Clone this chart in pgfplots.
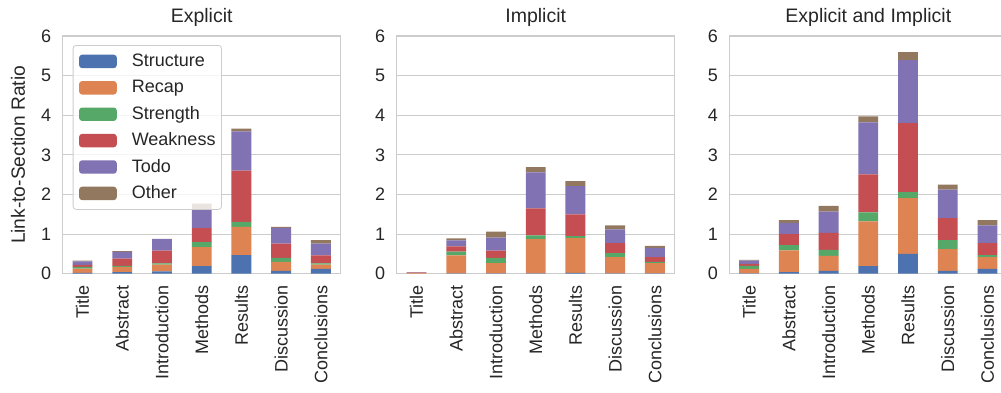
\documentclass[border=0pt]{standalone}
\usepackage{fontspec}
\setmainfont{Liberation Sans}
\usepackage{pgfplots}
\usepackage{pgfplotstable}
\pgfplotsset{compat=1.18}
\definecolor{cS}{HTML}{4C72B0}
\definecolor{cR}{HTML}{DD8452}
\definecolor{cG}{HTML}{55A868}
\definecolor{cW}{HTML}{C44E52}
\definecolor{cT}{HTML}{8172B3}
\definecolor{cO}{HTML}{937860}
\definecolor{gridc}{HTML}{CCCCCC}
\definecolor{txt}{HTML}{262626}

\pgfplotstableread{
x st re sg we to ot
0 0.02 0.11 0.04 0.05 0.09 0.02
1 0.04 0.13 0.03 0.18 0.17 0.02
2 0.06 0.17 0.03 0.32 0.29 0.01
3 0.19 0.48 0.13 0.35 0.47 0.15
4 0.47 0.71 0.13 1.29 0.99 0.07
5 0.07 0.23 0.10 0.36 0.40 0.02
6 0.12 0.11 0.03 0.20 0.30 0.09
}\explicitdata

\pgfplotstableread{
x st re sg we to ot
0 0.00 0.02 0.00 0.005 0.015 0.00
1 0.01 0.45 0.10 0.13 0.15 0.05
2 0.01 0.26 0.13 0.18 0.33 0.15
3 0.01 0.86 0.10 0.68 0.91 0.13
4 0.02 0.88 0.05 0.55 0.71 0.13
5 0.01 0.41 0.10 0.25 0.35 0.10
6 0.01 0.26 0.03 0.12 0.23 0.05
}\implicitdata

\pgfplotstableread{
x st re sg we to ot
0 0.01 0.11 0.08 0.05 0.08 0.02
1 0.04 0.55 0.13 0.28 0.28 0.07
2 0.07 0.38 0.15 0.43 0.54 0.14
3 0.19 1.13 0.23 0.96 1.31 0.15
4 0.50 1.41 0.15 1.74 1.59 0.20
5 0.07 0.55 0.23 0.55 0.72 0.13
6 0.12 0.30 0.05 0.30 0.45 0.13
}\bothdata

\newcommand{\fntK}{\fontsize{18}{21.6}\selectfont}
\newcommand{\fntT}{\fontsize{19.5}{23.4}\selectfont}
\newcommand{\fntL}{\fontsize{19.2}{23}\selectfont}
\newcommand{\fntG}{\fontsize{18}{21.6}\selectfont}

\pgfplotsset{
  panel/.style={
    scale only axis, width=278pt, height=237.7pt,
    anchor=south west,
    ymin=0, ymax=6, ytick={0,1,2,3,4,5,6},
    xmin=-0.5, xmax=6.5, xtick={0,1,2,3,4,5,6},
    xticklabels={Title,Abstract,Introduction,Methods,Results,Discussion,Conclusions},
    x tick label style={rotate=90, anchor=east},
    xticklabel shift={8pt},
    yticklabel shift={8pt},
    ybar stacked, bar width=0.5,
    ymajorgrids, grid style={gridc, line width=1.1pt},
    axis line style={gridc, line width=1.1pt},
    major tick length=0pt,
    tick label style={font=\fntK, text=txt},
    title style={font=\fntT, text=txt, yshift=0pt},
    label style={font=\fntL, text=txt},
    /pgf/number format/assume math mode=true,
  }
}

\newcommand{\bars}[1]{%
  \addplot[fill=cS, draw=none] table[x=x,y=st]{#1};
  \addplot[fill=cR, draw=none] table[x=x,y=re]{#1};
  \addplot[fill=cG, draw=none] table[x=x,y=sg]{#1};
  \addplot[fill=cW, draw=none] table[x=x,y=we]{#1};
  \addplot[fill=cT, draw=none] table[x=x,y=to]{#1};
  \addplot[fill=cO, draw=none] table[x=x,y=ot]{#1};
}

\begin{document}
\begin{tikzpicture}
\begin{axis}[panel, at={(62.7pt,118.3pt)}, title={Explicit},
  ylabel={Link-to-Section Ratio},
  y label style={at={([xshift=-34pt]axis description cs:0,0.5)}, anchor=south},
  legend style={at={([xshift=10pt,yshift=-9pt]axis description cs:0,1)}, anchor=north west,
    draw=gridc, line width=0.8pt, rounded corners=3pt, fill=white, fill opacity=0.8, text opacity=1,
    font=\fntG, text=txt, row sep=10.4pt, inner xsep=6pt, inner ysep=8pt,
    nodes={inner sep=0pt, text height=13pt, text depth=3pt}},
  legend cell align=left,
  legend image code/.code={\fill[#1, fill opacity=1] (0pt,-6.7pt) rectangle (37.7pt,6.7pt);},
  /tikz/every odd column/.append style={column sep=15pt},
]
\bars{\explicitdata}
\legend{Structure,Recap,Strength,Weakness,Todo,Other}
\end{axis}
\begin{axis}[panel, at={(396.7pt,118.3pt)}, title={Implicit}]
\bars{\implicitdata}
\end{axis}
\begin{axis}[panel, at={(729.3pt,118.3pt)}, title={Explicit and Implicit}]
\bars{\bothdata}
\end{axis}
\pgfresetboundingbox
\path[use as bounding box] (0pt,0pt) rectangle (1001pt,392pt);
\end{tikzpicture}
\end{document}
